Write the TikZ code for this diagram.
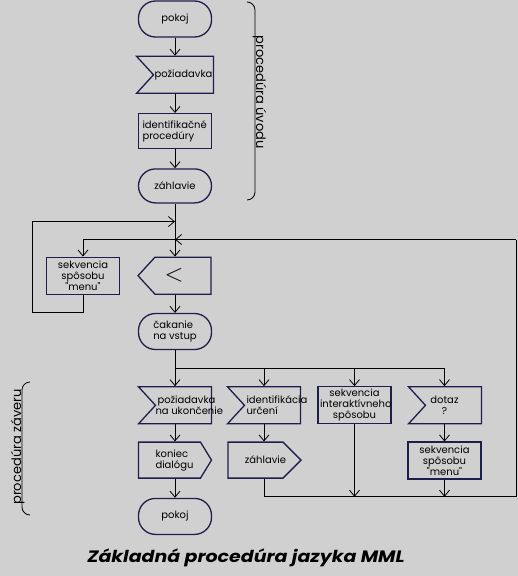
\documentclass[tikz,border=0pt]{standalone}
\usepackage{fontspec}
\setmainfont{Poppins}
\newfontfamily\nodefont{Poppins}
\newfontfamily\sidefont{Poppins}
\newfontfamily\titlefont{Poppins}[FakeStretch=1.15]
\usetikzlibrary{positioning,shapes.symbols,arrows.meta,calc}
\definecolor{bg}{HTML}{D0D0D0}
\definecolor{frame}{HTML}{1E1E4C}
% posun textu v uzle bez zmeny sirky
\newcommand\tsh[2]{\hspace*{#1}#2\hspace*{-#1}}

\begin{document}
\begin{tikzpicture}
                [x=1pt,y=1pt,node distance=18pt,line width=0.8pt,
                >={Straight Barb[length=6pt,width=10pt]},
                box/.style={draw=frame,line width=1.3pt,minimum width=73pt,minimum height=37pt,
                  inner sep=1pt,align=left,font=\nodefont\fontsize{10}{11}\selectfont},
                term/.style={box,rounded corners=17pt,minimum height=36pt},
                proc/.style={box,align=center,text width=69pt},
                notch/.style={box,signal,signal to=nowhere,signal from=west,signal pointer angle=95},
                ptl/.style={box,signal,signal to=west,signal pointer angle=95},
                ptr/.style={box,signal,signal to=east,minimum height=36pt}]
                \useasboundingbox[fill=bg] (0,0) rectangle (518,-576);
                % stlpce
                \coordinate (xa) at (175,0);
                \coordinate (xj) at (264,0);
                \coordinate (xl) at (354.5,0);
                \coordinate (xm) at (444.5,0);
                \coordinate (xr) at (516,0);
                \coordinate (xf) at (32,0);
                % hlavny stlpec
                \node[term] (a) at (175,-19){pokoj};
                \node[notch,xshift=8.5pt] (b)[below=of a]{požiadavka};
                \node[box,minimum height=35pt,text width=65pt,xshift=-8.5pt] (c)[below=19pt of b]{identifikačné\\procedúry};
                \node[term,minimum height=34pt] (d)[below=19pt of c]{záhlavie};
                \node[ptl,xshift=8pt,font=\fontsize{36}{36}\selectfont] (e)[below=53pt of d]{\tsh{-9pt}{$<$}};
                \node[term,xshift=-8pt] (f)[below=of e]{čakanie\\na vstup};
                \node[notch,xshift=8.5pt] (g)[below=36pt of f]{\makebox[52pt][l]{požiadavka}\\\makebox[52pt][l]{\tsh{-2pt}{na ukončenie}}};
                \node[ptr,signal pointer angle=117,xshift=-14pt] (h)[below=17pt of g]{\tsh{5pt}{koniec}\\\tsh{5pt}{dialógu}};
                \node[term,xshift=5.5pt] (i)[below=19pt of h]{pokoj};
                % vetvy
                \node[notch,xshift=8.5pt] (j) at (xj |- g){\makebox[52pt][l]{identifikácia}\\určení};
                \node[ptr,signal pointer angle=90,xshift=-17pt] (k)[below=17pt of j]{\tsh{10pt}{záhlavie}};
                \node[proc] (l) at (xl |- g){sekvencia\\interaktívneho\\spôsobu};
                \node[notch,align=center,xshift=9pt] (m) at (xm |- g){\tsh{-9pt}{dotaz}\\\tsh{-9pt}{?}};
                \node[proc,xshift=-9pt] (n)[below=17pt of m]{sekvencia\\spôsobu\\"menu"};
                \node[proc] (o)[left=17pt of e]{sekvencia\\spôsobu\\"menu"};
                % pomocne body
                \coordinate[below=18pt of f] (br);
                \coordinate[below=18pt of k] (bot);
                \coordinate (in2) at ($(xa |- e.north)+(0,17)$);
                \coordinate (in1) at ($(xa |- e.north)+(0,35)$);
                \draw[->] (a) -- (xa |- b.north);
                \draw[->] (xa |- b.south) -- (c);
                \draw[->] (c) -- (d);
                \draw[->] (d) -- (xa |- e.north);
                \draw[->] (xa |- e.south) -- (f);
                \draw[->] (f) -- (xa |- g.north);
                \draw[->] (xa |- g.south) -- (xa |- h.north);
                \draw[->] (xa |- h.south) -- (i);
                \draw[->] (xj |- j.south) -- (xj |- k.north);
                \draw[->] (xm |- m.south) -- (n);
                \draw[->] (br) -| (xj |- j.north);
                \draw[->] (br) -| (l.north);
                \draw[->] (br) -| (xm |- m.north);
                \draw[->] (l) -- (l |- bot);
                \draw[->] (n) -- (n |- bot);
                \draw (xj |- k.south) |- (xr |- bot) -- (xr |- in2);
                \draw[->] (xr |- in2) -- (in2);
                \draw[->] (in2) -| (o);
                \draw[->] (o.south) -- ++(0,-18) -| (xf |- in1) -- (in1);
                % zatvorky
                \draw[rounded corners=8pt] (247,-2) -- (255,-2) -- (255,-200) -- (247,-200);
                \node[rotate=-90,anchor=base,font=\sidefont\fontsize{13}{13}\selectfont] (uv) at (256,-92){procedúra úvodu};
                \draw[rounded corners=8pt] (30,-382) -- (22,-382) -- (22,-515) -- (30,-515);
                \node[rotate=90,anchor=base,font=\sidefont\fontsize{13}{13}\selectfont] (zv) at (21,-447){procedúra záveru};
                \node[font=\titlefont\bfseries\itshape\fontsize{16.5}{16.5}\selectfont] (t) at (246,-558){Základná procedúra jazyka MML};
\end{tikzpicture}
\end{document}
